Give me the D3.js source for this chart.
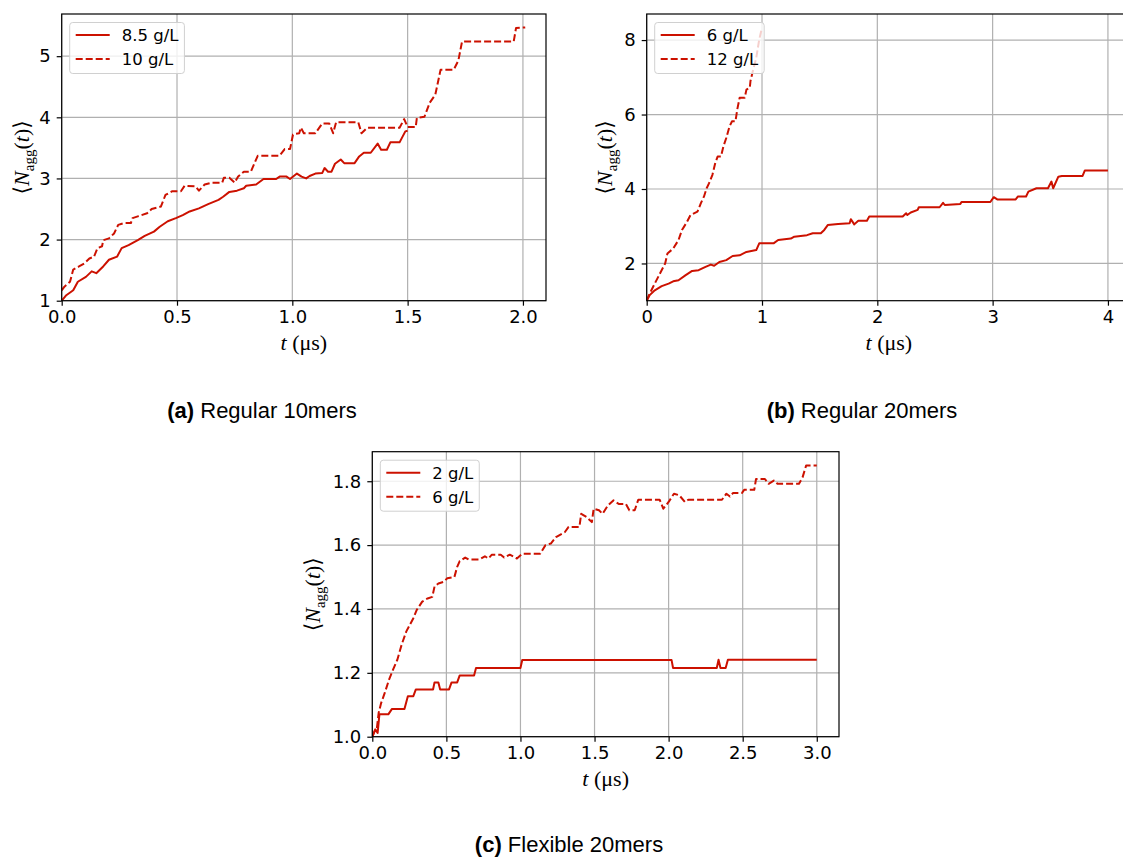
<!DOCTYPE html>
<html>
  <head>
    <meta charset="utf-8" />
    <title>Aggregation curves</title>
    <script src="https://d3js.org/d3.v7.min.js"></script>
    <style>
      body { margin: 0; background: #fff; }
      svg { display: block; }
      .tick text { font-family: "DejaVu Sans", sans-serif; font-size: 18px; fill: #000; }
      .tick line { stroke: #000; stroke-width: 1.2; }
    </style>
  </head>
  <body>
    <div id="figure"></div>
    <script type="text/javascript">
      // ---- data: [t (µs), <N_agg(t)>] ----
      var reg10Low = [
        [0,1.0],[0.02,1.09],[0.05,1.17],[0.07,1.31],[0.105,1.39],[0.13,1.48],[0.15,1.45],[0.18,1.56],
        [0.205,1.67],[0.24,1.72],[0.26,1.86],[0.29,1.91],[0.33,1.99],[0.36,2.06],[0.4,2.13],[0.425,2.21],
        [0.46,2.3],[0.495,2.35],[0.525,2.4],[0.555,2.46],[0.595,2.51],[0.635,2.58],[0.68,2.65],[0.7,2.7],
        [0.727,2.78],[0.76,2.8],[0.79,2.84],[0.8,2.88],[0.843,2.9],[0.875,2.99],[0.93,2.99],[0.945,3.03],
        [0.975,3.03],[0.99,2.99],[1.02,3.08],[1.04,3.03],[1.06,3.0],[1.075,3.04],[1.1,3.08],[1.13,3.09],
        [1.14,3.17],[1.155,3.11],[1.17,3.11],[1.185,3.24],[1.21,3.31],[1.225,3.25],[1.27,3.25],[1.29,3.36],
        [1.31,3.42],[1.34,3.42],[1.37,3.57],[1.385,3.47],[1.41,3.47],[1.425,3.59],[1.465,3.59],[1.49,3.77],
        [1.5,3.78]
      ];
      var reg10High = [
        [0,1.17],[0.012,1.23],[0.036,1.31],[0.05,1.51],[0.075,1.56],[0.098,1.61],[0.12,1.69],[0.14,1.72],
        [0.155,1.86],[0.175,1.89],[0.18,1.99],[0.205,2.02],[0.227,2.1],[0.245,2.24],[0.27,2.27],[0.3,2.27],
        [0.307,2.35],[0.33,2.38],[0.37,2.43],[0.39,2.5],[0.43,2.54],[0.45,2.73],[0.478,2.79],[0.517,2.79],
        [0.533,2.88],[0.58,2.87],[0.595,2.8],[0.62,2.9],[0.65,2.93],[0.696,2.93],[0.703,3.01],[0.727,3.01],
        [0.75,2.93],[0.765,3.03],[0.79,3.11],[0.82,3.11],[0.85,3.37],[0.944,3.37],[0.967,3.48],[0.99,3.48],
        [1.003,3.72],[1.03,3.74],[1.037,3.83],[1.05,3.74],[1.1,3.74],[1.13,3.9],[1.16,3.9],[1.177,3.74],
        [1.19,3.92],[1.286,3.92],[1.3,3.74],[1.325,3.83],[1.465,3.83],[1.485,3.97],[1.5,3.84],[1.535,3.84],
        [1.54,3.99],[1.573,4.01],[1.596,4.24],[1.62,4.37],[1.643,4.78],[1.7,4.78],[1.72,4.93],[1.736,5.24],
        [1.96,5.24],[1.97,5.46],[2.01,5.47]
      ];
      var reg20Low = [
        [0,1.0],[0.026,1.15],[0.07,1.28],[0.13,1.39],[0.19,1.46],[0.23,1.52],[0.276,1.55],[0.335,1.68],
        [0.394,1.8],[0.45,1.82],[0.51,1.91],[0.556,1.97],[0.585,1.94],[0.63,2.04],[0.69,2.09],[0.745,2.2],
        [0.806,2.22],[0.865,2.31],[0.95,2.36],[0.976,2.54],[1.1,2.54],[1.14,2.63],[1.25,2.67],[1.28,2.72],
        [1.39,2.76],[1.44,2.81],[1.51,2.81],[1.54,2.9],[1.57,3.03],[1.66,3.06],[1.76,3.08],[1.77,3.19],
        [1.8,3.05],[1.835,3.15],[1.91,3.15],[1.93,3.26],[2.22,3.26],[2.25,3.35],[2.26,3.3],[2.29,3.37],
        [2.35,3.44],[2.36,3.51],[2.54,3.51],[2.57,3.63],[2.585,3.57],[2.72,3.6],[2.73,3.65],[2.98,3.65],
        [3.01,3.78],[3.04,3.72],[3.2,3.72],[3.22,3.8],[3.29,3.8],[3.31,3.93],[3.38,4.02],[3.48,4.02],
        [3.51,4.2],[3.525,4.02],[3.57,4.33],[3.6,4.35],[3.78,4.35],[3.8,4.5],[4.0,4.5]
      ];
      var reg20High = [
        [0,1.0],[0.026,1.19],[0.07,1.46],[0.115,1.73],[0.16,2.0],[0.18,2.27],[0.23,2.4],[0.276,2.63],
        [0.306,2.9],[0.35,3.12],[0.38,3.3],[0.44,3.39],[0.47,3.62],[0.497,3.8],[0.52,4.02],[0.54,4.15],
        [0.57,4.38],[0.594,4.69],[0.615,4.87],[0.644,4.87],[0.665,5.14],[0.69,5.37],[0.718,5.68],[0.74,5.82],
        [0.77,5.82],[0.785,6.13],[0.806,6.45],[0.85,6.45],[0.865,6.67],[0.894,6.72],[0.9,6.9],[0.92,7.16],
        [0.95,7.52],[0.976,8.02],[0.997,8.29]
      ];
      var flex20Low = [
        [0,1.0],[0.02,1.023],[0.036,1.012],[0.048,1.07],[0.108,1.07],[0.133,1.087],[0.217,1.087],[0.24,1.127],
        [0.277,1.127],[0.294,1.148],[0.41,1.148],[0.42,1.17],[0.446,1.17],[0.458,1.148],[0.518,1.148],
        [0.535,1.17],[0.573,1.17],[0.59,1.192],[0.687,1.192],[0.7,1.215],[1.0,1.215],[1.012,1.24],
        [2.02,1.24],[2.03,1.215],[2.325,1.215],[2.337,1.241],[2.35,1.215],[2.385,1.215],[2.4,1.241],[3.0,1.241]
      ];
      var flex20High = [
        [0,1.0],[0.017,1.018],[0.03,1.023],[0.043,1.075],[0.06,1.106],[0.084,1.137],[0.113,1.179],[0.14,1.21],
        [0.169,1.241],[0.198,1.288],[0.229,1.329],[0.253,1.35],[0.277,1.371],[0.3,1.397],[0.337,1.423],
        [0.373,1.433],[0.405,1.438],[0.42,1.47],[0.446,1.48],[0.482,1.485],[0.506,1.496],[0.554,1.5],
        [0.573,1.532],[0.59,1.55],[0.627,1.561],[0.65,1.555],[0.723,1.555],[0.76,1.565],[0.783,1.558],
        [0.807,1.57],[0.867,1.57],[0.89,1.561],[0.928,1.57],[0.976,1.558],[1.012,1.573],[1.133,1.573],
        [1.169,1.6],[1.205,1.605],[1.24,1.625],[1.3,1.641],[1.325,1.657],[1.398,1.657],[1.41,1.698],
        [1.446,1.688],[1.482,1.672],[1.494,1.714],[1.53,1.709],[1.554,1.698],[1.59,1.724],[1.627,1.74],
        [1.663,1.729],[1.711,1.729],[1.735,1.709],[1.771,1.709],[1.795,1.742],[1.94,1.742],[1.964,1.714],
        [2.0,1.735],[2.036,1.761],[2.072,1.756],[2.11,1.735],[2.133,1.742],[2.36,1.742],[2.39,1.761],
        [2.414,1.752],[2.434,1.763],[2.494,1.763],[2.51,1.773],[2.578,1.773],[2.59,1.807],[2.65,1.807],
        [2.675,1.792],[2.71,1.802],[2.735,1.792],[2.88,1.792],[2.904,1.812],[2.928,1.849],[3.0,1.849]
      ];

      var ticksA_x = [0, 0.5, 1.0, 1.5, 2.0];
      var ticksA_y = [1, 2, 3, 4, 5];
      var ticksB_x = [0, 1, 2, 3, 4];
      var ticksB_y = [2, 4, 6, 8];
      var ticksC_x = [0, 0.5, 1.0, 1.5, 2.0, 2.5, 3.0];
      var ticksC_y = [1.0, 1.2, 1.4, 1.6, 1.8];

      var red = "#cc1100";

      var panels = [
        {
          box: { l: 61.7, r: 546, t: 14, b: 300.7 },
          xDomain: [0, 2.1], yDomain: [1, 5.69],
          xTicks: ticksA_x, xFmt: ".1f", yTicks: ticksA_y, yFmt: "d",
          series: [
            { name: "8.5 g/L", data: reg10Low, dashed: false },
            { name: "10 g/L", data: reg10High, dashed: true }
          ],
          ylabelGap: 33,
          caption: { bold: "(a)", rest: " Regular 10mers", x: 262, y: 418 }
        },
        {
          box: { l: 646.7, r: 1131, t: 14, b: 300.7 },
          xDomain: [0, 4.2], yDomain: [1, 8.7],
          xTicks: ticksB_x, xFmt: "d", yTicks: ticksB_y, yFmt: "d",
          series: [
            { name: "6 g/L", data: reg20Low, dashed: false },
            { name: "12 g/L", data: reg20High, dashed: true }
          ],
          ylabelGap: 35,
          caption: { bold: "(b)", rest: " Regular 20mers", x: 862, y: 418 }
        },
        {
          box: { l: 372.3, r: 839, t: 451.7, b: 736.7 },
          xDomain: [0, 3.15], yDomain: [1, 1.8925],
          xTicks: ticksC_x, xFmt: ".1f", yTicks: ticksC_y, yFmt: ".1f",
          series: [
            { name: "2 g/L", data: flex20Low, dashed: false },
            { name: "6 g/L", data: flex20High, dashed: true }
          ],
          ylabelGap: 52,
          caption: { bold: "(c)", rest: " Flexible 20mers", x: 569, y: 852 }
        }
      ];

      var svg = d3
        .select("#figure")
        .append("svg")
        .attr("width", 1123)
        .attr("height", 859);

      svg.append("rect").attr("width", 1123).attr("height", 859).attr("fill", "#fff");

      panels.forEach(function (p, i) {
        var b = p.box;
        var x = d3.scaleLinear().domain(p.xDomain).range([b.l, b.r]);
        var y = d3.scaleLinear().domain(p.yDomain).range([b.b, b.t]);
        var g = svg.append("g");

        var clipId = "clip" + i;
        svg.append("clipPath").attr("id", clipId)
          .append("rect")
          .attr("x", b.l).attr("y", b.t)
          .attr("width", b.r - b.l).attr("height", b.b - b.t);

        // grid
        g.append("g").selectAll("line").data(p.xTicks).enter().append("line")
          .attr("x1", function (d) { return x(d); })
          .attr("x2", function (d) { return x(d); })
          .attr("y1", b.t).attr("y2", b.b)
          .attr("stroke", "#b0b0b0").attr("stroke-width", 1.2);
        g.append("g").selectAll("line").data(p.yTicks).enter().append("line")
          .attr("y1", function (d) { return y(d); })
          .attr("y2", function (d) { return y(d); })
          .attr("x1", b.l).attr("x2", b.r)
          .attr("stroke", "#b0b0b0").attr("stroke-width", 1.2);

        // curves
        var line = d3.line()
          .x(function (d) { return x(d[0]); })
          .y(function (d) { return y(d[1]); });
        var lines = g.append("g").attr("clip-path", "url(#" + clipId + ")");
        p.series.forEach(function (s) {
          lines.append("path")
            .datum(s.data)
            .attr("d", line)
            .attr("fill", "none")
            .attr("stroke", red)
            .attr("stroke-width", 2)
            .attr("stroke-linejoin", "round")
            .attr("stroke-dasharray", s.dashed ? "7,3" : null);
        });

        // axes
        var xAxis = g.append("g")
          .attr("transform", "translate(0," + b.b + ")")
          .call(d3.axisBottom(x).tickValues(p.xTicks).tickFormat(d3.format(p.xFmt))
            .tickSize(5).tickPadding(5));
        xAxis.select(".domain").remove();
        var yAxis = g.append("g")
          .attr("transform", "translate(" + b.l + ",0)")
          .call(d3.axisLeft(y).tickValues(p.yTicks).tickFormat(d3.format(p.yFmt))
            .tickSize(5).tickPadding(6));
        yAxis.select(".domain").remove();

        // frame
        g.append("rect")
          .attr("x", b.l).attr("y", b.t)
          .attr("width", b.r - b.l).attr("height", b.b - b.t)
          .attr("fill", "none").attr("stroke", "#000").attr("stroke-width", 1.2);

        // axis labels
        var xc = (b.l + b.r) / 2;
        var xl = g.append("text")
          .attr("x", xc).attr("y", b.b + 49)
          .attr("text-anchor", "middle")
          .attr("font-family", "'Liberation Serif', 'DejaVu Serif', serif")
          .attr("font-size", 22);
        xl.append("tspan").attr("font-style", "italic").text("t");
        xl.append("tspan").text(" (\u03bcs)");

        var yl = g.append("text")
          .attr("transform", "translate(" + (b.l - p.ylabelGap) + "," + (b.t + b.b) / 2 + ") rotate(-90)")
          .attr("text-anchor", "middle")
          .attr("font-family", "'Liberation Serif', 'DejaVu Serif', serif")
          .attr("font-size", 22);
        yl.append("tspan").text("\u27e8");
        yl.append("tspan").attr("font-style", "italic").text("N");
        yl.append("tspan").attr("font-size", 15).attr("dy", 5).text("agg");
        yl.append("tspan").attr("dy", -5).text("(");
        yl.append("tspan").attr("font-style", "italic").text("t");
        yl.append("tspan").text(")\u27e9");

        // legend
        var lx = b.l + 8, ly = b.t + 8.5;
        var leg = g.append("g");
        var legBox = leg.append("rect")
          .attr("x", lx).attr("y", ly).attr("height", 51)
          .attr("rx", 3)
          .attr("fill", "#fff").attr("fill-opacity", 0.8)
          .attr("stroke", "#d0d0d0").attr("stroke-width", 1);
        var maxW = 0;
        p.series.forEach(function (s, k) {
          var cy = ly + 12.5 + k * 24;
          leg.append("line")
            .attr("x1", lx + 6).attr("x2", lx + 40)
            .attr("y1", cy).attr("y2", cy)
            .attr("stroke", red).attr("stroke-width", 2)
            .attr("stroke-dasharray", s.dashed ? "7,3" : null);
          var t = leg.append("text")
            .attr("x", lx + 52).attr("y", cy + 6)
            .attr("font-family", "'DejaVu Sans', sans-serif")
            .attr("font-size", 16.5)
            .text(s.name);
          maxW = Math.max(maxW, t.node().getComputedTextLength());
        });
        legBox.attr("width", 52 + maxW + 6);

        // caption
        var cap = svg.append("text")
          .attr("x", p.caption.x).attr("y", p.caption.y)
          .attr("text-anchor", "middle")
          .attr("font-family", "'Liberation Sans', Arial, sans-serif")
          .attr("font-size", 22);
        cap.append("tspan").attr("font-weight", "bold").text(p.caption.bold);
        cap.append("tspan").text(p.caption.rest);
      });
    </script>
  </body>
</html>
